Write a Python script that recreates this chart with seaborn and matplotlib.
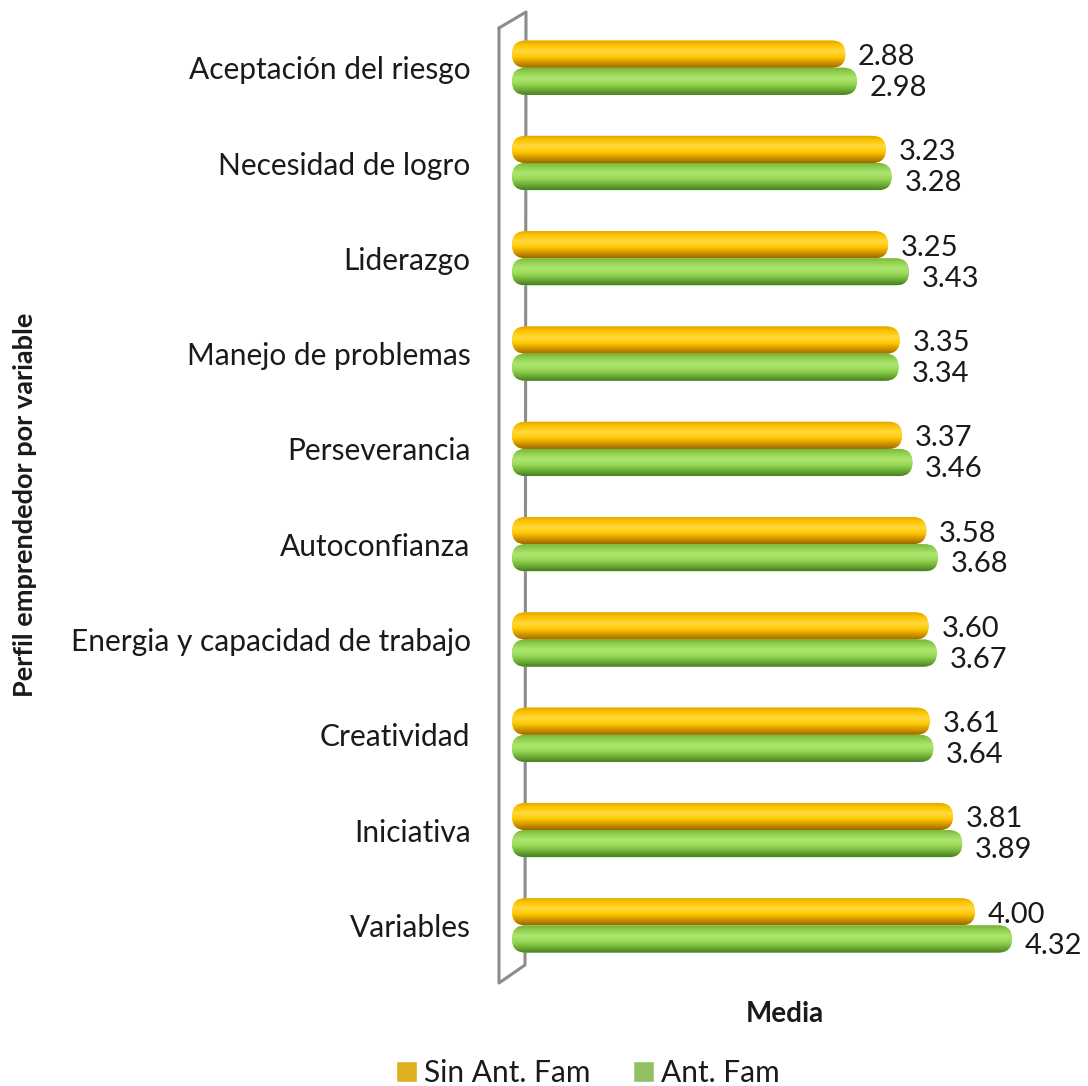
import matplotlib
matplotlib.use("Agg")
import matplotlib.pyplot as plt
import numpy as np
import pandas as pd
import seaborn as sns
from matplotlib.patches import FancyBboxPatch
from matplotlib.lines import Line2D
from matplotlib.colors import LinearSegmentedColormap

categories = ["Aceptación del riesgo", "Necesidad de logro", "Liderazgo",
              "Manejo de problemas", "Perseverancia", "Autoconfianza",
              "Energia y capacidad de trabajo", "Creatividad", "Iniciativa",
              "Variables"]
sin_ant = [2.88, 3.23, 3.25, 3.35, 3.37, 3.58, 3.60, 3.61, 3.81, 4.00]
ant_fam = [2.98, 3.28, 3.43, 3.34, 3.46, 3.68, 3.67, 3.64, 3.89, 4.32]
series = ["Sin Ant. Fam", "Ant. Fam"]

sns.set_theme(style="white")
plt.rcParams['font.family'] = ['Lato', 'DejaVu Sans']

df = pd.DataFrame({
    "cat": categories * 2,
    "value": sin_ant + ant_fam,
    "serie": [series[0]] * len(categories) + [series[1]] * len(categories),
})

orange = "#FFC000"
green = "#92D050"
grad_cols = {
    0: ["#E0A200", "#FFC600", "#FFD840", "#FFCA00", "#D49600", "#9A6A00"],
    1: ["#72B236", "#94D252", "#ADE66E", "#98D856", "#70B038", "#467F22"],
}

fig = plt.figure(figsize=(10.88, 10.86), dpi=100)
ax = fig.add_axes([0.4504, 0.104, 0.5414, 0.8775])
ax.patch.set_alpha(0)

sns.barplot(data=df, y="cat", x="value", hue="serie", orient="h",
            order=categories, hue_order=series, palette=[orange, green],
            width=0.57, errorbar=None, ax=ax, legend=True)

ax.set_xlim(-0.19, 4.9)
ax.set_ylim(9.5, -0.5)
fig.canvas.draw()
p0 = ax.transData.transform((0, 0))
p1 = ax.transData.transform((1, 1))
px_x = abs(p1[0] - p0[0])
px_y = abs(p1[1] - p0[1])

for si, cont in enumerate(ax.containers):
    cmap = LinearSegmentedColormap.from_list(f"g{si}", grad_cols[si])
    grad = np.linspace(0, 1, 128).reshape(-1, 1)
    for bar in cont:
        x0, y0, w, h = bar.get_x(), bar.get_y(), bar.get_width(), bar.get_height()
        bar.set_visible(False)
        r_y = h / 2
        r_x = r_y * px_y / px_x
        patch = FancyBboxPatch((x0, y0), w, h,
                               boxstyle=f"round,pad=0,rounding_size={r_x}",
                               mutation_aspect=r_y / r_x,
                               facecolor=grad_cols[si][1], edgecolor="none",
                               zorder=3)
        ax.add_patch(patch)
        im = ax.imshow(grad, extent=[x0, x0 + w, y0 + h, y0], origin="upper",
                       aspect="auto", cmap=cmap, zorder=4, interpolation="bilinear")
        im.set_clip_path(patch)
        yc = y0 + h / 2 + (0.03 if si == 0 else 0.07)
        ax.text(x0 + w + 0.11, yc, f"{w:.2f}", ha="left", va="center",
                fontsize=21, color="#1a1a1a", zorder=5)

ax.set_xlim(-0.19, 4.9)
ax.set_ylim(9.5, -0.5)

for s in ax.spines.values():
    s.set_visible(False)
ax.set_xticks([])
ax.tick_params(axis="y", length=0, pad=14, labelsize=21.5, labelcolor="#1a1a1a")
ax.set_ylabel("")
ax.set_xlabel("Media", fontsize=20, fontweight="bold", labelpad=20, color="#1a1a1a")

# 3D wall outline
W, H = 1088, 1086
pts = [(499, 28), (526, 12), (525, 965), (499, 983), (499, 28)]
xs = [p[0] / W for p in pts]
ys = [1 - p[1] / H for p in pts]
ax.add_line(Line2D(xs, ys, transform=fig.transFigure, color="#8C8C8C",
                   lw=2.2, zorder=1, clip_on=False))

fig.text(25 / W, 1 - 505 / H, "Perfil emprendedor por variable", rotation=90,
         ha="center", va="center", fontsize=19.5, fontweight="bold", color="#1a1a1a")

sns.move_legend(ax, "center", bbox_to_anchor=(588 / W, 1 - 1073 / H),
                bbox_transform=fig.transFigure, ncol=2, frameon=False, title=None,
                fontsize=21.5, handlelength=0.7, handleheight=0.7,
                handletextpad=0.25, columnspacing=1.4)
leg = ax.get_legend()
for t in leg.get_texts():
    t.set_color("#1a1a1a")

fig.savefig("out.png", dpi=100, facecolor="white")
